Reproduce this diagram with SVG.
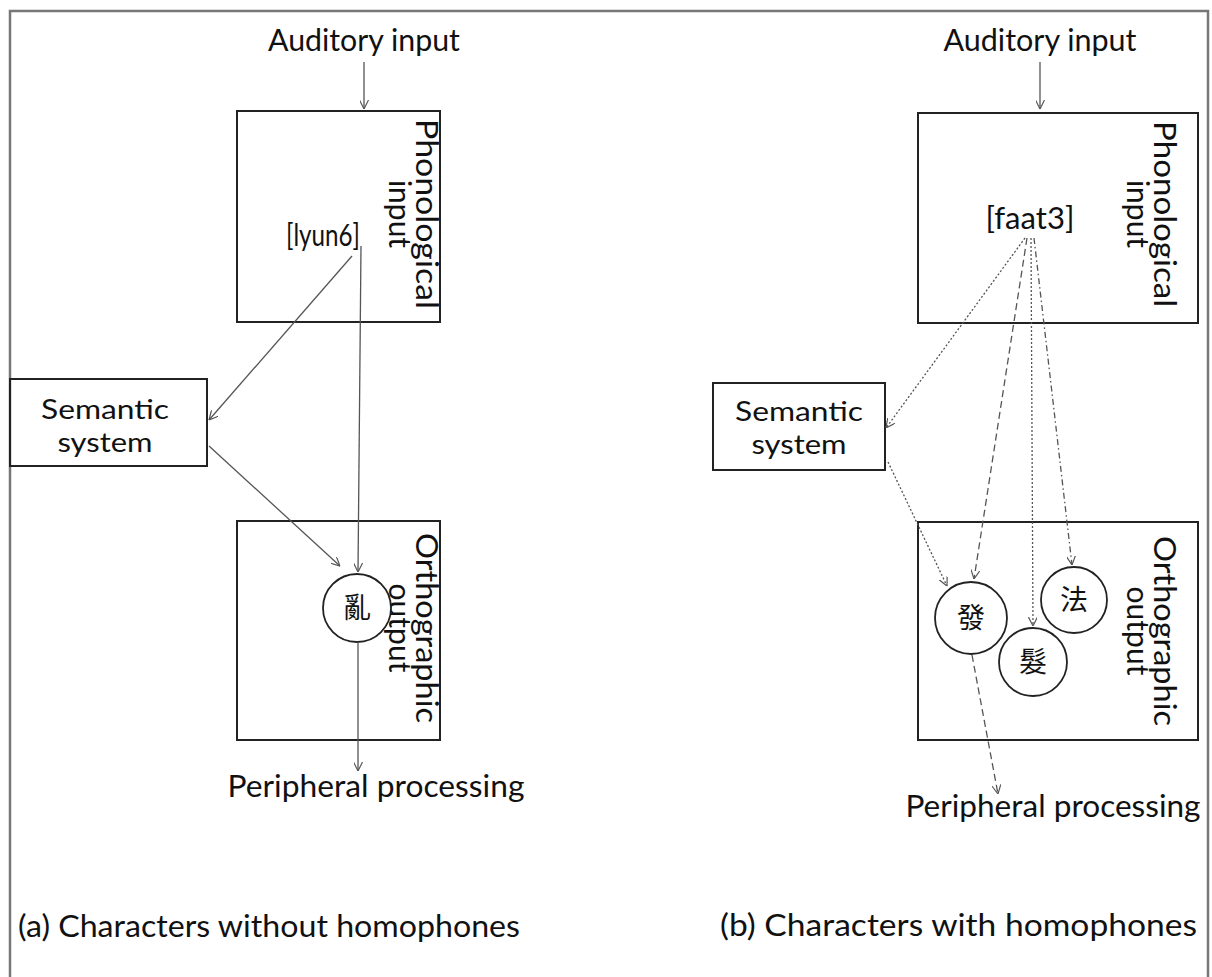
<svg xmlns="http://www.w3.org/2000/svg" width="1212" height="977" viewBox="0 0 1212 977">
<style>
text{font-family:Lato,"Liberation Sans","Noto Sans CJK TC",sans-serif;fill:#111;font-size:30px}
.sm{font-size:26px}
.cjk{font-family:"Noto Sans CJK TC","Noto Sans CJK SC",sans-serif;font-size:28px;text-anchor:middle}
.box{fill:none;stroke:#222;stroke-width:2}
.circ{fill:#fff;stroke:#222;stroke-width:1.8}
.c{fill:none;stroke:#555;stroke-width:1.3;marker-end:url(#ah)}
.dot{stroke-dasharray:2 2}
.dash{stroke-dasharray:7 4}
.dd{stroke-dasharray:6 3 1.5 3}
.mid{text-anchor:middle}
</style>
<defs>
<marker id="ah" viewBox="0 0 10 10" refX="10" refY="5" markerWidth="9" markerHeight="9" markerUnits="userSpaceOnUse" orient="auto">
<path d="M0,0 L10,5 L0,10" fill="none" stroke="#555" stroke-width="1.3"/>
</marker>
</defs>
<rect x="0" y="0" width="1212" height="977" fill="#fff"/>
<rect id="frame" x="10" y="11" width="1198" height="1000" fill="none" stroke="#777" stroke-width="2.5"/>

<g id="n-aud-a"><text x="364" y="51" class="mid" textLength="192" lengthAdjust="spacingAndGlyphs">Auditory input</text></g>
<g id="n-phon-a">
<rect class="box" x="237" y="111" width="203" height="211"/>
<text transform="translate(416,214) rotate(90)" class="mid" textLength="190" lengthAdjust="spacingAndGlyphs">Phonological</text>
<text transform="translate(389,214) rotate(90)" class="mid">input</text>
<text x="323" y="246" class="mid" textLength="74" lengthAdjust="spacingAndGlyphs">[lyun6]</text>
</g>
<g id="n-sem-a">
<rect class="box" x="10" y="379" width="197" height="87"/>
<text x="105" y="419" class="mid sm" textLength="128" lengthAdjust="spacingAndGlyphs">Semantic</text>
<text x="105" y="452" class="mid sm" textLength="95" lengthAdjust="spacingAndGlyphs">system</text>
</g>
<g id="n-orth-a">
<rect class="box" x="237" y="521" width="203" height="219"/>
<text transform="translate(416,628) rotate(90)" class="mid" textLength="190" lengthAdjust="spacingAndGlyphs">Orthographic</text>
<text transform="translate(389,628) rotate(90)" class="mid">output</text>
</g>
<g id="n-luan">
<circle class="circ" cx="357" cy="608" r="34"/>
<text x="357" y="618" class="cjk">亂</text>
</g>
<g id="n-peri-a"><text x="376" y="797" class="mid" textLength="297" lengthAdjust="spacingAndGlyphs">Peripheral processing</text></g>
<g id="cap-a"><text x="18" y="937" textLength="502" lengthAdjust="spacingAndGlyphs">(a) Characters without homophones</text></g>

<g id="n-aud-b"><text x="1040" y="51" class="mid" textLength="193" lengthAdjust="spacingAndGlyphs">Auditory input</text></g>
<g id="n-phon-b">
<rect class="box" x="918" y="113" width="280" height="210"/>
<text transform="translate(1154,214) rotate(90)" class="mid" textLength="186" lengthAdjust="spacingAndGlyphs">Phonological</text>
<text transform="translate(1127,214) rotate(90)" class="mid">input</text>
<text x="1030" y="229" class="mid" textLength="89" lengthAdjust="spacingAndGlyphs">[faat3]</text>
</g>
<g id="n-sem-b">
<rect class="box" x="713" y="383" width="172" height="87"/>
<text x="799" y="421" class="mid sm" textLength="128" lengthAdjust="spacingAndGlyphs">Semantic</text>
<text x="799" y="454" class="mid sm" textLength="95" lengthAdjust="spacingAndGlyphs">system</text>
</g>
<g id="n-orth-b">
<rect class="box" x="918" y="522" width="280" height="218"/>
<text transform="translate(1154,631) rotate(90)" class="mid" textLength="190" lengthAdjust="spacingAndGlyphs">Orthographic</text>
<text transform="translate(1127,631) rotate(90)" class="mid">output</text>
</g>
<g id="n-fa1">
<circle class="circ" cx="971" cy="618" r="36"/>
<text x="971" y="628" class="cjk">發</text>
</g>
<g id="n-fa2">
<circle class="circ" cx="1074" cy="600" r="33"/>
<text x="1074" y="610" class="cjk">法</text>
</g>
<g id="n-fa3">
<circle class="circ" cx="1033" cy="662" r="34"/>
<text x="1033" y="672" class="cjk">髮</text>
</g>
<g id="n-peri-b"><text x="1053" y="817" class="mid" textLength="295" lengthAdjust="spacingAndGlyphs">Peripheral processing</text></g>
<g id="cap-b"><text x="1197" y="936" style="text-anchor:end" textLength="477" lengthAdjust="spacingAndGlyphs">(b) Characters with homophones</text></g>

<g id="connectors">
<line class="c" x1="364" y1="62" x2="364" y2="109"/>
<line class="c" x1="352" y1="256" x2="209" y2="420"/>
<line class="c" x1="361" y1="246" x2="358" y2="572"/>
<line class="c" x1="209" y1="446" x2="340" y2="566"/>
<line class="c" x1="358" y1="642" x2="358" y2="771"/>

<line class="c" x1="1040" y1="62" x2="1040" y2="109"/>
<line class="c dot" x1="1025" y1="238" x2="886" y2="428"/>
<line class="c dot" x1="888" y1="462" x2="947" y2="586"/>
<line class="c dash" x1="1027" y1="238" x2="974" y2="579"/>
<line class="c dot" x1="1031" y1="238" x2="1033" y2="626"/>
<line class="c dd" x1="1034" y1="238" x2="1072" y2="565"/>
<line class="c dash" x1="972" y1="655" x2="998" y2="794"/>
</g>
</svg>
